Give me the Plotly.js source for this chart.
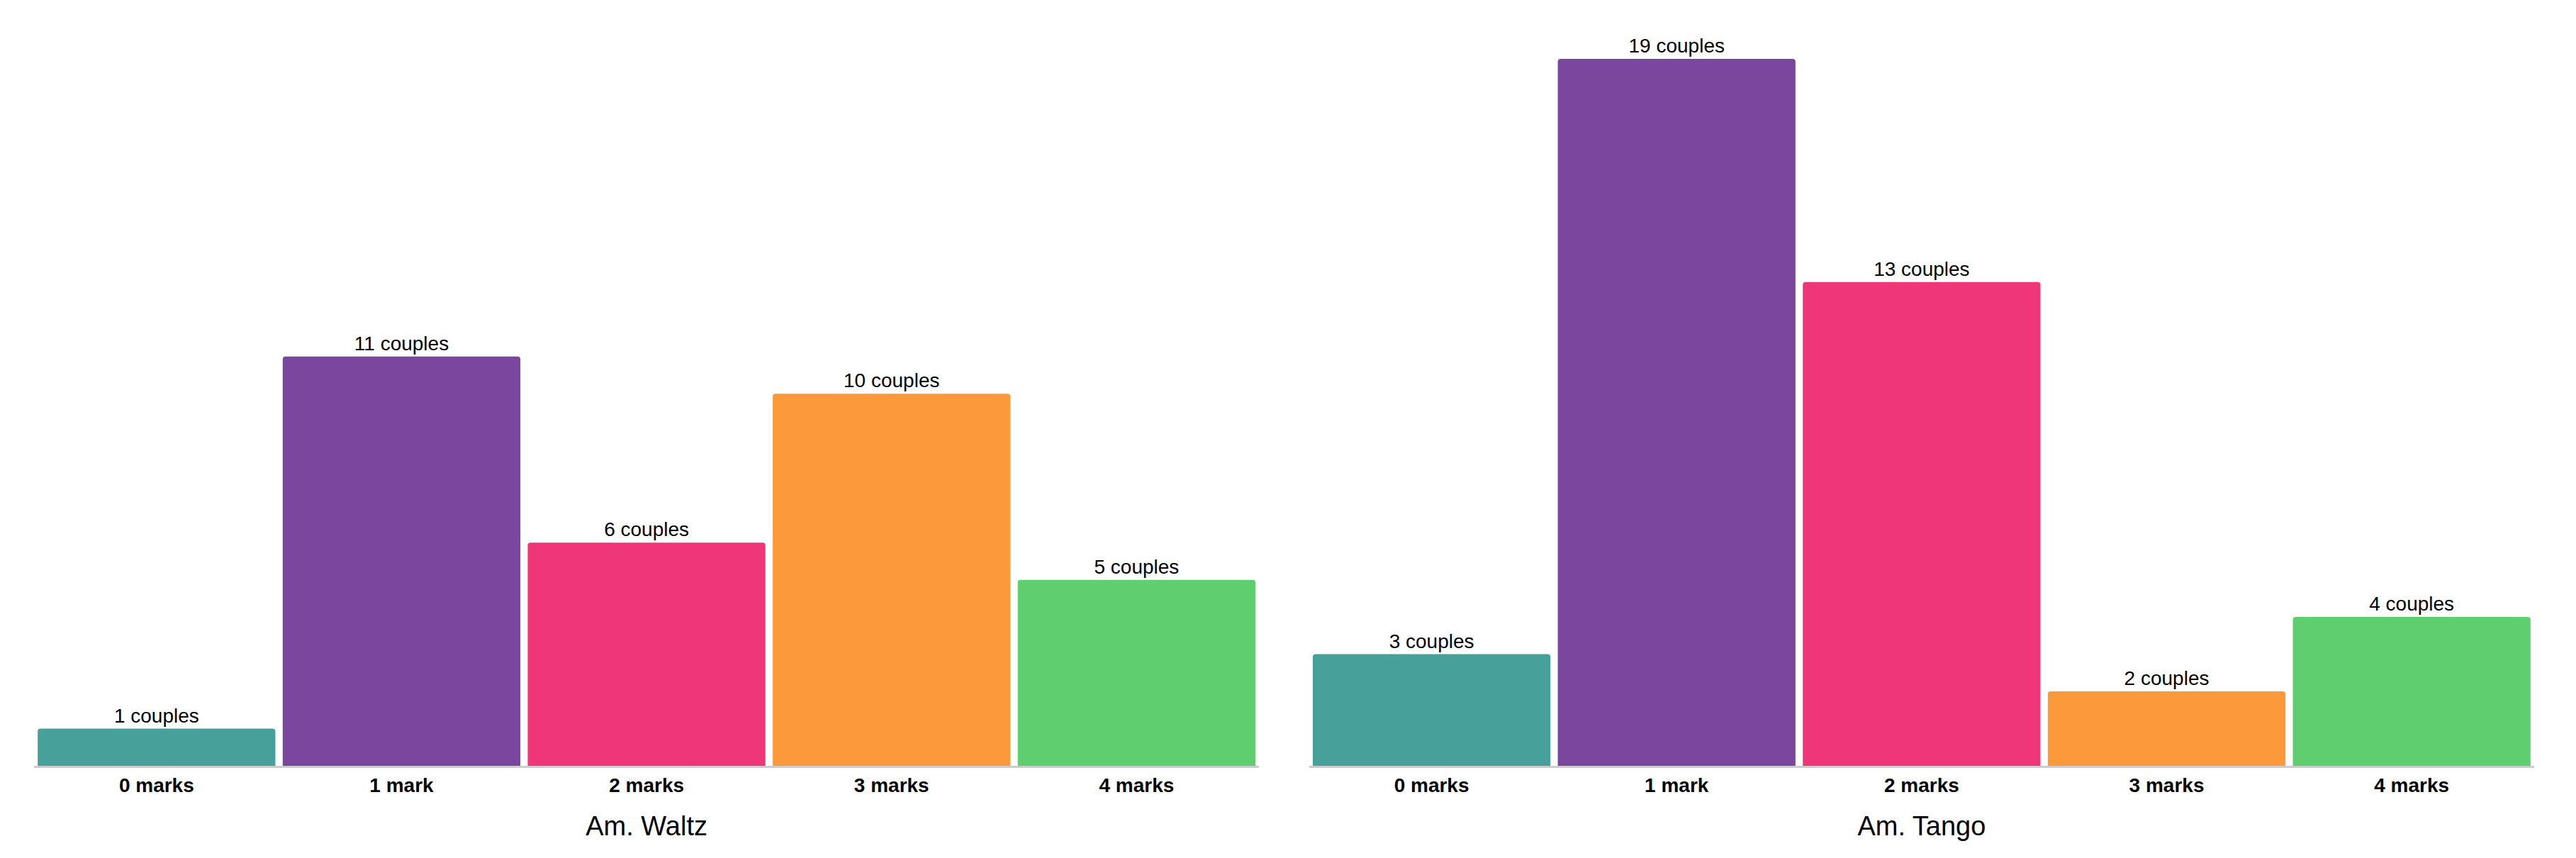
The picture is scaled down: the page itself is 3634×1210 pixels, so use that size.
<!DOCTYPE html>
<html><head><meta charset="utf-8">
<script src="https://cdn.plot.ly/plotly-3.0.1.min.js"></script>
<style>body{margin:0}#chart{width:3634px;height:1210px}</style>
</head><body><div id="chart"></div>
<script>
var categories = ['0 marks', '1 mark', '2 marks', '3 marks', '4 marks'];
var colors = ['#48A09B', '#7B479E', '#EE3679', '#FC993A', '#5FCE6E'];
var waltz = [1, 11, 6, 10, 5];
var tango = [3, 19, 13, 2, 4];

function trace(vals, xa, ya) {
  return {
    type: 'bar', x: categories, y: vals, xaxis: xa, yaxis: ya,
    marker: {color: colors, cornerradius: 4},
    text: vals.map(function (v) { return v + ' couples'; }),
    textposition: 'outside', cliponaxis: false,
    textfont: {size: 28, color: '#000'},
    hoverinfo: 'none'
  };
}

function xaxis(dom, title) {
  return {
    domain: dom, showline: true, linecolor: '#cccccc', linewidth: 3,
    ticks: '', tickvals: categories,
    ticktext: categories.map(function (c) { return '<b>' + c + '</b>'; }),
    tickfont: {size: 28, color: '#000'},
    title: {text: title, font: {size: 38, color: '#000'}, standoff: 30}
  };
}

function yaxis(anchor) {
  return {anchor: anchor, range: [0, 19], visible: false, showgrid: false, zeroline: false};
}

var layout = {
  width: 3634, height: 1210,
  font: {family: 'Liberation Sans, Arial, sans-serif'},
  margin: {l: 48, r: 59, t: 83, b: 130},
  showlegend: false, bargap: 0.03,
  paper_bgcolor: '#fff', plot_bgcolor: '#fff',
  xaxis: xaxis([0, 0.49], 'Am. Waltz'),
  xaxis2: xaxis([0.51, 1], 'Am. Tango'),
  yaxis: yaxis('x'),
  yaxis2: yaxis('x2')
};
layout.xaxis.anchor = 'y';
layout.xaxis2.anchor = 'y2';

Plotly.newPlot('chart', [trace(waltz, 'x', 'y'), trace(tango, 'x2', 'y2')], layout, {displayModeBar: false});
</script></body></html>
